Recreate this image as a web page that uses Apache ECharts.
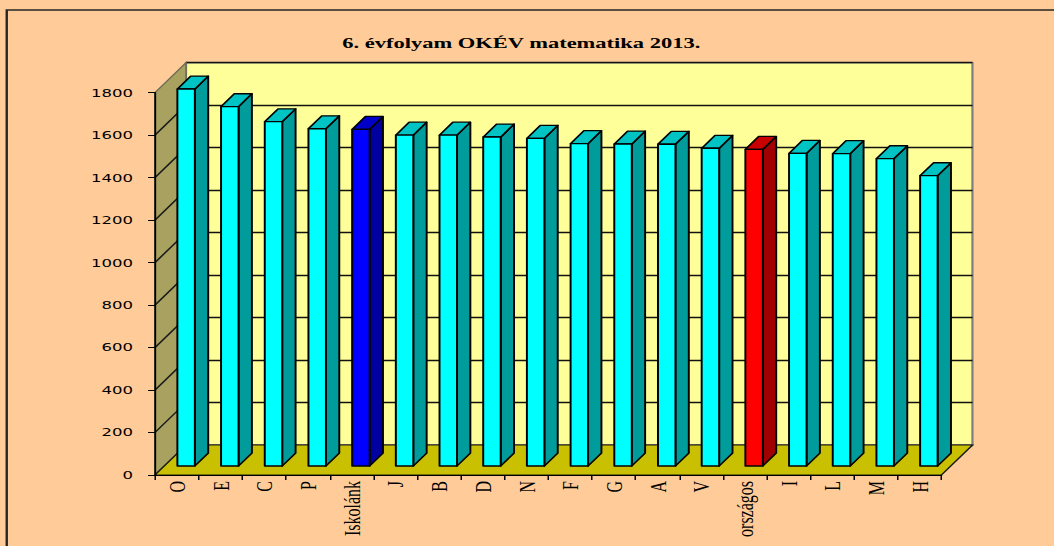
<!DOCTYPE html>
<html>
<head>
<meta charset="utf-8">
<script src="https://cdn.jsdelivr.net/npm/echarts@6/dist/echarts.min.js"></script>
<style>
  html, body { margin: 0; padding: 0; background: #FFCC99; overflow: hidden; }
  #chart { width: 702.667px; height: 546px; transform: scaleX(1.5); transform-origin: 0 0; }
</style>
</head>
<body>
<div id="chart"></div>
<script>
// ---- data ----
const titleText = '6. évfolyam OKÉV matematika 2013.';
const categories = ['O', 'E', 'C', 'P', 'Iskolánk', 'J', 'B', 'D', 'N', 'F', 'G', 'A', 'V', 'országos', 'I', 'L', 'M', 'H'];
const scores = [1775, 1692, 1621, 1588, 1585, 1558, 1558, 1549, 1543, 1518, 1516, 1515, 1496, 1491, 1472, 1471, 1447, 1367];
const yMin = 0, yMax = 1800, yStep = 200;

// ---- 3D look (styles) ----
const DX = 20.7, DY = -30;          // full depth offset of the back wall
const BAR_FRONT = 0.3, BAR_DEPTH = 0.43, BAR_W = 0.4;
const palettes = {
  normal: { front: '#00FFFF', side: '#009C9C', top: '#00C4C4' },
  'Iskolánk': { front: '#0000FF', side: '#0000A0', top: '#0000C8' },
  'országos': { front: '#FF0000', side: '#A00000', top: '#C80000' }
};

function renderWalls(params, api) {
  const cs = params.coordSys;
  const x0 = cs.x, x1 = cs.x + cs.width;
  const yb = api.coord([0, yMin])[1], yt = api.coord([0, yMax])[1];
  const children = [];
  children.push({ type: 'polygon', shape: { points: [[x0, yb], [x0, yt], [x0 + DX, yt + DY], [x0 + DX, yb + DY]] },
    style: { fill: '#A8A15F', stroke: '#6b6b55', lineWidth: 1 } });
  for (let v = yMin + yStep; v < yMax; v += yStep) {
    const y = api.coord([0, v])[1];
    children.push({ type: 'line', shape: { x1: x0, y1: y, x2: x0 + DX, y2: y + DY }, style: { stroke: '#1a1a1a', lineWidth: 1.2 } });
  }
  children.push({ type: 'polygon', shape: { points: [[x0, yb], [x1, yb], [x1 + DX, yb + DY], [x0 + DX, yb + DY]] },
    style: { fill: '#C8C000', stroke: '#1a1a1a', lineWidth: 1.2 } });
  return { type: 'group', children };
}

function renderBar(params, api) {
  const i = api.value(0), v = api.value(1);
  const pal = palettes[categories[i]] || palettes.normal;
  const top = api.coord([i, v]), base = api.coord([i, yMin]);
  const w = api.size([1, 0])[0] * BAR_W;
  const fx = BAR_FRONT * DX, fy = BAR_FRONT * DY;
  const bx = BAR_DEPTH * DX, by = BAR_DEPTH * DY;
  const xl = top[0] - w / 2 + fx, xr = xl + w;
  const yt = top[1] + fy, yb = base[1] + fy;
  const st = { stroke: '#000', lineWidth: 1.3, lineJoin: 'round' };
  return { type: 'group', children: [
    { type: 'polygon', shape: { points: [[xr, yt], [xr + bx, yt + by], [xr + bx, yb + by], [xr, yb]] }, style: Object.assign({ fill: pal.side }, st) },
    { type: 'polygon', shape: { points: [[xl, yt], [xr, yt], [xr + bx, yt + by], [xl + bx, yt + by]] }, style: Object.assign({ fill: pal.top }, st) },
    { type: 'rect', shape: { x: xl, y: yt, width: w, height: yb - yt }, style: Object.assign({ fill: pal.front }, st) }
  ] };
}

const chart = echarts.init(document.getElementById('chart'), null, { renderer: 'svg' });
const gridFront = { left: 103.3, top: 92.7, width: 524.3, height: 382.3 };
chart.setOption({
  backgroundColor: '#FFCC99',
  animation: false,
  title: {
    text: titleText, left: 342.5, top: 30, textAlign: 'center',
    textStyle: { fontFamily: 'Liberation Serif', fontWeight: 'bold', fontSize: 15, color: '#000' }
  },
  graphic: [{ type: 'rect', shape: { x: 4.5, y: 10, width: 900, height: 700 }, style: { fill: 'none', stroke: '#262626', lineWidth: 1.6 }, z: 10, silent: true }],
  grid: [
    gridFront,
    { left: gridFront.left + DX, top: gridFront.top + DY, width: gridFront.width, height: gridFront.height,
      show: true, backgroundColor: '#FFFF99', borderColor: '#808080', borderWidth: 1.5 }
  ],
  xAxis: [
    { type: 'category', gridIndex: 0, data: categories, z: 5,
      axisLine: { lineStyle: { color: '#000', width: 1.2 } },
      axisTick: { show: true, length: 5, interval: 0, lineStyle: { color: '#000', width: 1 } },
      axisLabel: { interval: 0, rotate: 90, margin: 6, fontFamily: 'Liberation Serif', fontSize: 16, color: '#000' },
      splitLine: { show: false } },
    { type: 'category', gridIndex: 1, data: categories, show: false }
  ],
  yAxis: [
    { type: 'value', gridIndex: 0, min: yMin, max: yMax, interval: yStep, z: 5,
      axisLine: { show: true, lineStyle: { color: '#000', width: 1.2 } },
      axisTick: { show: true, length: 4.6, lineStyle: { color: '#000', width: 1 } },
      axisLabel: { margin: 14.6, fontFamily: 'DejaVu Sans', fontSize: 11, color: '#000', formatter: v => String(v) },
      splitLine: { show: false } },
    { type: 'value', gridIndex: 1, min: yMin, max: yMax, interval: yStep,
      axisLine: { show: false }, axisTick: { show: false }, axisLabel: { show: false },
      splitLine: { show: true, lineStyle: { color: '#111', width: 1.4 } } }
  ],
  series: [
    { type: 'custom', name: 'walls', xAxisIndex: 0, yAxisIndex: 0, z: 1, silent: true, clip: false,
      renderItem: renderWalls, data: [[0, 0]] },
    { type: 'custom', name: 'OKÉV', xAxisIndex: 0, yAxisIndex: 0, z: 2, clip: false,
      renderItem: renderBar, encode: { x: 0, y: 1 },
      data: scores.map((v, i) => [i, v]) }
  ]
});
</script>
</body>
</html>
